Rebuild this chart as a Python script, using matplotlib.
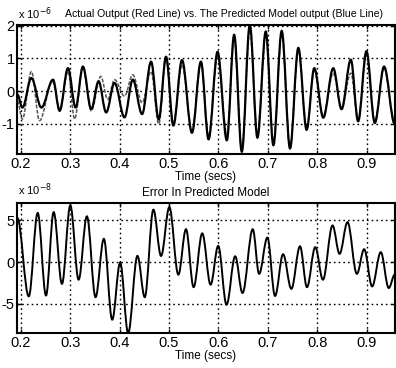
import matplotlib
matplotlib.use("Agg")
import matplotlib.pyplot as plt
from matplotlib.path import Path
from matplotlib.patches import PathPatch

plt.rcParams['font.family'] = ['Liberation Sans', 'DejaVu Sans']

# ---- data (extrema) ----
# top panel, units of 1e-6
pred_t = [0.1930, 0.2034, 0.2215, 0.2417, 0.2653, 0.2787, 0.2956, 0.3111, 0.3258, 0.3427,
          0.3575, 0.3729, 0.3898, 0.4100, 0.4268, 0.4456, 0.4638, 0.4793, 0.4941, 0.5089,
          0.5264, 0.5466, 0.5647, 0.5802, 0.5984, 0.6172, 0.6320, 0.6475, 0.6637, 0.6791,
          0.6960, 0.7114, 0.7283, 0.7451, 0.7619, 0.7787, 0.7942, 0.8124, 0.8326, 0.8494,
          0.8682, 0.8830, 0.8998, 0.9167, 0.9355, 0.9570]
pred_v = [-0.1, -0.5, 0.4, -0.5, 0.35, -0.6, 0.7, -0.5, 0.75, -0.55,
          0.3, -0.65, 0.25, -0.8, 0.35, -0.7, 0.9, -0.86, 1.05, -1.05,
          0.95, -1.27, 0.9, -1.47, 1.2, -1.5, 1.72, -1.85, 2.03, -1.42,
          1.82, -1.65, 1.84, -1.75, 1.32, -1.18, 0.7, -0.81, 0.7, -0.55,
          0.96, -0.92, 1.22, -0.97, 0.75, -1.0]

act_t = [0.1930, 0.2034, 0.2215, 0.2380, 0.2640, 0.2787, 0.2956, 0.3090, 0.3258, 0.3427,
         0.3620, 0.3760, 0.3898, 0.4100, 0.4268, 0.4456, 0.4638, 0.4793, 0.4941, 0.5089,
         0.5264, 0.5466, 0.5647, 0.5802, 0.5984, 0.6172, 0.6320, 0.6475, 0.6637, 0.6791,
         0.6960, 0.7114, 0.7283, 0.7451, 0.7619, 0.7787, 0.7942, 0.8124, 0.8326, 0.8494,
         0.8682, 0.8830, 0.8998, 0.9167, 0.9355, 0.9570]
act_v = [-0.3, -0.85, 0.6, -0.9, 0.3, -0.55, 0.6, -0.85, 0.7, -0.6,
         0.45, -0.25, 0.35, -0.15, 0.5, -0.35, 0.6, -1.0, 1.0, -1.0,
         0.8, -1.2, 0.85, -1.35, 1.05, -1.3, 1.6, -1.75, 1.85, -1.3,
         1.7, -1.55, 1.75, -1.7, 1.25, -1.1, 0.65, -0.75, 0.55, -0.5,
         0.55, -0.85, 1.1, -0.9, 0.7, -0.95]

# bottom panel, units of 1e-8
err_t = [0.1930, 0.2162, 0.2343, 0.2511, 0.2666, 0.2834, 0.3003, 0.3171, 0.3339, 0.3514,
         0.3682, 0.3851, 0.4012, 0.4174, 0.4362, 0.4510, 0.4685, 0.4840, 0.5008, 0.5190,
         0.5345, 0.5499, 0.5674, 0.5843, 0.5997, 0.6166, 0.6340, 0.6489, 0.6697, 0.6825,
         0.6993, 0.7148, 0.7310, 0.7478, 0.7653, 0.7794, 0.7962, 0.8117, 0.8312, 0.8454,
         0.8615, 0.8804, 0.8952, 0.9113, 0.9288, 0.9450, 0.9571]
err_v = [5.3, -4.1, 5.9, -4.0, 6.0, -2.6, 6.8, -2.1, 5.5, -4.2,
         2.8, -6.9, -0.05, -8.5, 0.75, -4.2, 6.3, 0.75, 6.6, -1.5,
         3.95, -3.0, 3.45, -2.7, 1.95, -5.1, 0.7, -3.7, 3.95, -1.4,
         2.95, -4.05, 0.95, -3.2, 1.9, -3.0, 1.8, -2.1, 4.4, 1.0,
         4.8, -1.4, 1.55, -2.9, 1.2, -3.1, -1.5]

xticks = [0.2, 0.3, 0.4, 0.5, 0.6, 0.7, 0.8, 0.9]
xticklabels = ['0.2', '0.3', '0.4', '0.5', '0.6', '0.7', '0.8', '0.9']
top_yticks = [-1, 0, 1, 2]
bot_yticks = [-5, 0, 5]


def smooth_path(t, v):
    verts = [(t[0], v[0])]
    codes = [Path.MOVETO]
    for i in range(len(t) - 1):
        dt = t[i + 1] - t[i]
        verts += [(t[i] + 0.36 * dt, v[i]), (t[i + 1] - 0.36 * dt, v[i + 1]), (t[i + 1], v[i + 1])]
        codes += [Path.CURVE4] * 3
    return Path(verts, codes)


def style_axes(ax, yticks, ylim):
    ax.set_xlim(0.193, 0.957)
    ax.set_ylim(*ylim)
    ax.set_xticks(xticks)
    ax.set_xticklabels(xticklabels)
    ax.set_yticks(yticks)
    ax.set_yticklabels([str(y) for y in yticks])
    ax.tick_params(direction='in', length=3, width=1, labelsize=10.5, pad=2,
                   top=True, right=True)
    ax.grid(True, color='black', linestyle=(0, (1.2, 2.2)), linewidth=1.0)
    for s in ax.spines.values():
        s.set_linewidth(1.5)
    ax.set_xlabel('Time (secs)', fontsize=8.5, labelpad=0)


fig = plt.figure(figsize=(3.96, 3.68), dpi=100)

ax1 = fig.add_axes([0.0437, 0.5815, 0.953, 0.3505])
style_axes(ax1, top_yticks, (-1.92, 2.02))
ax1.add_patch(PathPatch(smooth_path(act_t, act_v), fill=False, edgecolor='#555555',
                        linewidth=1.1, linestyle=(0, (2.5, 1))))
ax1.add_patch(PathPatch(smooth_path(pred_t, pred_v), fill=False, edgecolor='black',
                        linewidth=1.6))
ax1.set_title('Actual Output (Red Line) vs. The Predicted Model output (Blue Line)',
              fontsize=7.6, pad=6, x=0.548)
fig.text(0.045, 0.962, r'x 10$^{-6}$', fontsize=8, ha='left', va='center')

ax2 = fig.add_axes([0.0437, 0.0951, 0.953, 0.3533])
style_axes(ax2, bot_yticks, (-8.5, 7.1))
ax2.add_patch(PathPatch(smooth_path(err_t, err_v), fill=False, edgecolor='black',
                        linewidth=1.4))
ax2.set_title('Error In Predicted Model', fontsize=8.5, pad=5)
fig.text(0.045, 0.485, r'x 10$^{-8}$', fontsize=8, ha='left', va='center')

fig.savefig('out.png', dpi=100)
